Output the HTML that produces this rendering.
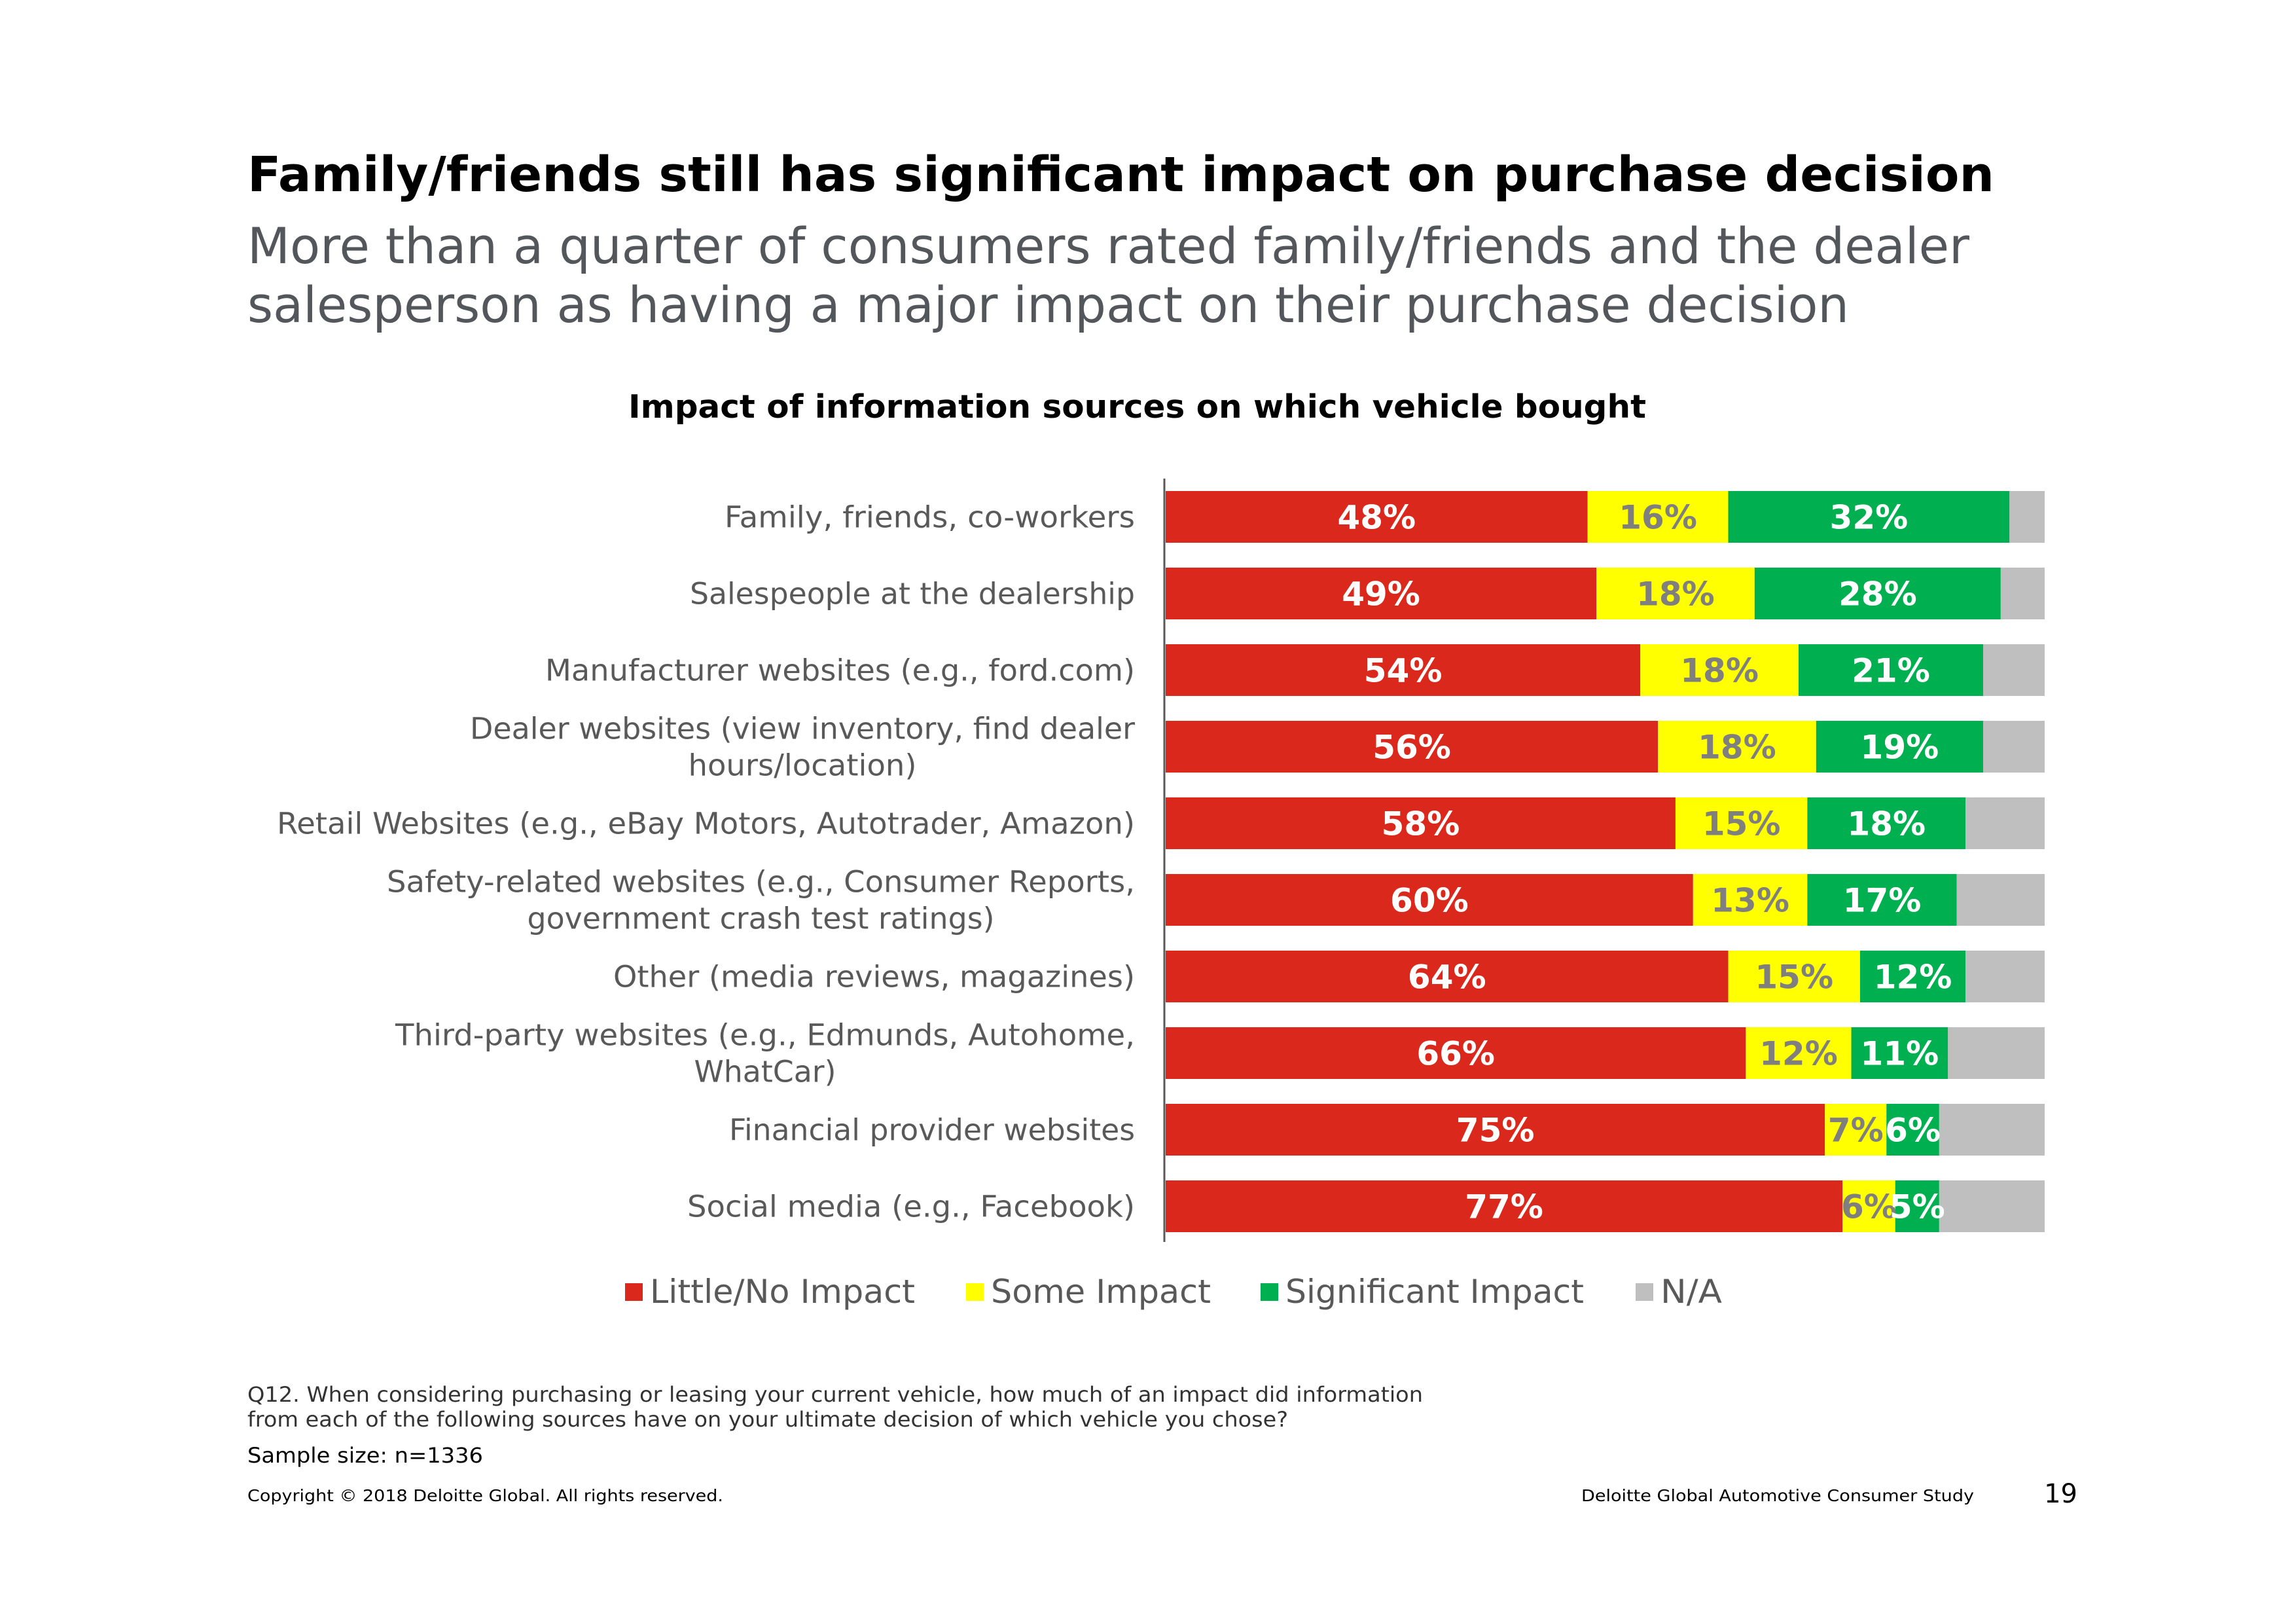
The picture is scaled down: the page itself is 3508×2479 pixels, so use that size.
<!DOCTYPE html>
<html><head><meta charset="utf-8"><style>
html,body{margin:0;padding:0;background:#fff;}
svg{display:block;font-family:"DejaVu Sans","Liberation Sans",sans-serif;}
</style></head><body>
<svg id="s" width="3508" height="2479" viewBox="0 0 3508 2479" xmlns="http://www.w3.org/2000/svg">
<text x="378" y="292" font-size="74" font-weight="bold" fill="#000" textLength="2669" lengthAdjust="spacingAndGlyphs">Family/friends still has significant impact on purchase decision</text>
<text x="378" y="402" font-size="76" fill="#53565a" textLength="2631" lengthAdjust="spacingAndGlyphs">More than a quarter of consumers rated family/friends and the dealer</text>
<text x="378" y="492" font-size="76" fill="#53565a" textLength="2447" lengthAdjust="spacingAndGlyphs">salesperson as having a major impact on their purchase decision</text>
<text x="960" y="638" font-size="49" font-weight="bold" fill="#000" textLength="1555" lengthAdjust="spacingAndGlyphs">Impact of information sources on which vehicle bought</text>
<g id="bars"></g>
<g id="cats"></g>
<line x1="1779" y1="731" x2="1779" y2="1897" stroke="#595959" stroke-width="3"/>
<g id="legend"></g>
<text x="378" y="2141" font-size="32" fill="#333" textLength="1796" lengthAdjust="spacingAndGlyphs">Q12. When considering purchasing or leasing your current vehicle, how much of an impact did information</text>
<text x="378" y="2179" font-size="32" fill="#333" textLength="1590" lengthAdjust="spacingAndGlyphs">from each of the following sources have on your ultimate decision of which vehicle you chose?</text>
<text x="378" y="2234" font-size="32" fill="#000" textLength="360" lengthAdjust="spacingAndGlyphs">Sample size: n=1336</text>
<text x="378" y="2293" font-size="25" fill="#000" textLength="727" lengthAdjust="spacingAndGlyphs">Copyright © 2018 Deloitte Global. All rights reserved.</text>
<text x="2416" y="2293" font-size="25" fill="#000" textLength="600" lengthAdjust="spacingAndGlyphs">Deloitte Global Automotive Consumer Study</text>
<text x="3174" y="2295" font-size="40" fill="#000" text-anchor="end">19</text>
</svg>
<script>
const categories=[["Family, friends, co-workers"],["Salespeople at the dealership"],["Manufacturer websites (e.g., ford.com)"],["Dealer websites (view inventory, find dealer","hours/location)"],["Retail Websites (e.g., eBay Motors, Autotrader, Amazon)"],["Safety-related websites (e.g., Consumer Reports,","government crash test ratings)"],["Other (media reviews, magazines)"],["Third-party websites (e.g., Edmunds, Autohome,","WhatCar)"],["Financial provider websites"],["Social media (e.g., Facebook)"]];
const littleImpact=[48,49,54,56,58,60,64,66,75,77];
const someImpact=[16,18,18,18,15,13,15,12,7,6];
const significantImpact=[32,28,21,19,18,17,12,11,6,5];
const seriesNames=["Little/No Impact","Some Impact","Significant Impact","N/A"];
const NS="http://www.w3.org/2000/svg";
const labelWidths=[[627],[680],[901],[1016,349],[1311],[1143,714],[797],[1130,217],[620],[684]];
const x0=1781,x1=3124,top0=750,pitch=117,bh=79;
const xs=v=>x0+(x1-x0)*v/100;
const ys=i=>top0+pitch*i;
const colors=["#da291c","#ffff00","#00b050","#bfbfbf"];
const txtCol=["#fff","#7f7f7f","#fff"];
const bars=document.getElementById('bars'),cats=document.getElementById('cats'),leg=document.getElementById('legend');
function mk(t,a,p){const e=document.createElementNS(NS,t);for(const k in a)e.setAttribute(k,a[k]);p.appendChild(e);return e;}
const keys=['little','some','significant','na'];
categories.forEach((c,i)=>{
  const vals=[littleImpact[i],someImpact[i],significantImpact[i]];
  const na=100-vals[0]-vals[1]-vals[2];
  const all=[...vals,na];
  let acc=0;const y=ys(i);
  all.forEach((v,k)=>{
    const r=mk('rect',{x:xs(acc),y:y,width:Math.max(0,xs(acc+v)-xs(acc)),height:bh,fill:colors[k]},bars);
    
    
    acc+=v;
  });
  acc=0;
  vals.forEach((v,k)=>{
    const t=mk('text',{x:(xs(acc)+xs(acc+v))/2,y:y+bh/2+18,'font-size':50,'font-weight':'bold',fill:txtCol[k],'text-anchor':'middle'},bars);
    t.textContent=v+'%';
    
    
    acc+=v;
  });
  const cy=y+bh/2;
  const w0=labelWidths[i][0];
  c.forEach((line,j)=>{
    const off=c.length===1?0:(j===0?-28:28);
    const centered=c.length>1;
    const t=mk('text',{x:centered?1734-w0/2:1734,y:cy+off+16,'font-size':45,fill:'#595959','text-anchor':centered?'middle':'end',textLength:labelWidths[i][j],lengthAdjust:'spacingAndGlyphs'},cats);
    t.textContent=line;
    
    
  });
});
const legX=[955,1476,1926,2499];
const legW=[405,336,456,94];
seriesNames.forEach((n,k)=>{
  const r=mk('rect',{x:legX[k],y:1960,width:27,height:27,fill:colors[k]},leg);
  
  
  const t=mk('text',{x:legX[k]+38,y:1990,'font-size':50,fill:'#595959',textLength:legW[k],lengthAdjust:'spacingAndGlyphs'},leg);
  t.textContent=n;
  
  
});
</script>
</body></html>
